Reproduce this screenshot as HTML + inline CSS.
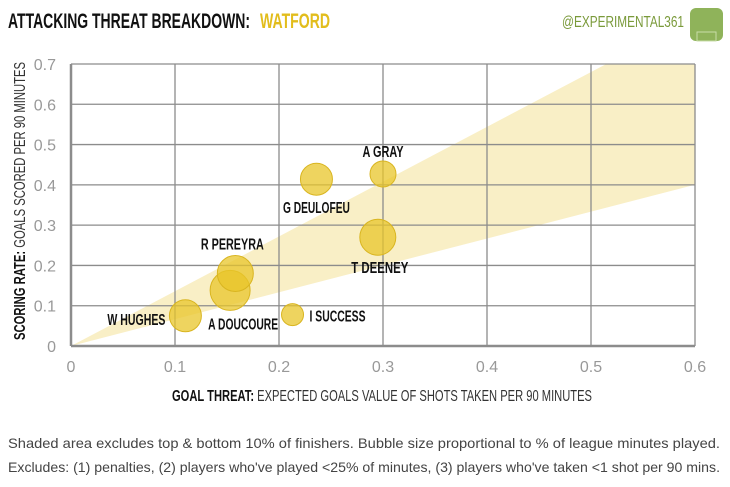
<!DOCTYPE html>
<html><head><meta charset="utf-8"><style>
body{margin:0;background:#fff;width:730px;height:487px;overflow:hidden;font-family:"Liberation Sans",sans-serif}
svg{display:block}
</style></head><body>
<svg id="chart" width="730" height="487" viewBox="0 0 730 487">
<text x="8" y="28" font-size="21" font-weight="bold" fill="#111" textLength="242" lengthAdjust="spacingAndGlyphs">ATTACKING THREAT BREAKDOWN:</text>
<text x="260" y="28" font-size="21" font-weight="bold" fill="#e2bd1c" textLength="70" lengthAdjust="spacingAndGlyphs">WATFORD</text>
<text x="562" y="27" font-size="16" fill="#7a9a3a" textLength="122" lengthAdjust="spacingAndGlyphs">@EXPERIMENTAL361</text>
<g><rect x="690" y="8" width="33" height="33" rx="6" fill="#8fb35a"/><rect x="697" y="32" width="19" height="9" fill="none" stroke="#c8dca8" stroke-width="1"/></g>
<g id="plot"></g>
<text x="8" y="448" font-size="14" fill="#444" textLength="712" lengthAdjust="spacingAndGlyphs">Shaded area excludes top &amp; bottom 10% of finishers. Bubble size proportional to % of league minutes played.</text>
<text x="8" y="472" font-size="14" fill="#444" textLength="712" lengthAdjust="spacingAndGlyphs">Excludes: (1) penalties, (2) players who've played &lt;25% of minutes, (3) players who've taken &lt;1 shot per 90 mins.</text>
</svg>
<script>
const players=["W HUGHES","A DOUCOURE","R PEREYRA","I SUCCESS","G DEULOFEU","A GRAY","T DEENEY"];
const xG=[0.110,0.153,0.158,0.213,0.236,0.300,0.295];
const goals=[0.075,0.138,0.180,0.078,0.414,0.427,0.270];
const minutes=[16,20,18,11,16,13,18];
const xTicks=[0,0.1,0.2,0.3,0.4,0.5,0.6];
const yTicks=[0,0.1,0.2,0.3,0.4,0.5,0.6,0.7];
const bandUpper=1.36, bandLower=0.667;
const NS="http://www.w3.org/2000/svg";
const X0=71,X1=695,Y0=346,Y1=64;
const sx=v=>X0+v/0.6*(X1-X0);
const sy=v=>Y0-v/0.7*(Y0-Y1);
const g=document.getElementById('plot');
function mk(t,a){const e=document.createElementNS(NS,t);for(const k in a)e.setAttribute(k,a[k]);g.appendChild(e);return e;}
const ux=Math.min(0.6,0.7/bandUpper);
let pts=[[0,0],[ux,ux*bandUpper]];
if(ux<0.6)pts.push([0.6,0.7]);
pts.push([0.6,0.6*bandLower]);
const band=mk('polygon',{points:pts.map(p=>sx(p[0])+','+sy(p[1])).join(' '),fill:'#f9efc6'});


xTicks.forEach(v=>{
 const l=mk('line',{x1:sx(v),x2:sx(v),y1:Y1,y2:Y0,stroke:'#8c8c8c','stroke-width':v===0?2.5:1.3});
 
 
 const t=mk('text',{x:sx(v),y:372,'text-anchor':'middle','font-size':16,fill:'#999'});
 t.textContent=v===0?'0':String(v);
 
 
});
yTicks.forEach(v=>{
 const l=mk('line',{x1:X0,x2:X1,y1:sy(v),y2:sy(v),stroke:'#8c8c8c','stroke-width':v===0?2.5:1.3});
 
 
 const t=mk('text',{x:56,y:sy(v)+6,'text-anchor':'end','font-size':16,fill:'#999'});
 t.textContent=v===0?'0':String(v);
 
 
});
const labelPos=[[-20,9,'end',58],[-22,39,'start',70],[-3,-24,'middle',63],[17,7,'start',56],[0,34,'middle',67],[0,-17,'middle',41],[2,36,'middle',57]];
players.forEach((p,i)=>{
 const c=mk('circle',{cx:sx(xG[i]),cy:sy(goals[i]),r:minutes[i],fill:'#e8c52a','fill-opacity':0.75,stroke:'#d9b520','stroke-width':1});
 
 
});
players.forEach((p,i)=>{
 const lp=labelPos[i];
 const t=mk('text',{x:sx(xG[i])+lp[0],y:sy(goals[i])+lp[1],'text-anchor':lp[2],'font-size':16,'font-weight':'bold',fill:'#111',textLength:lp[3],lengthAdjust:'spacingAndGlyphs'});
 t.textContent=p;
 
 
});
const xt=mk('text',{x:172,y:401,'font-size':16,fill:'#333',textLength:420,lengthAdjust:'spacingAndGlyphs'});
xt.innerHTML='<tspan font-weight="bold" fill="#111">GOAL THREAT:</tspan> EXPECTED GOALS VALUE OF SHOTS TAKEN PER 90 MINUTES';


const yt=mk('text',{x:0,y:0,'font-size':16,fill:'#333',transform:'translate(25,340) rotate(-90)',textLength:278,lengthAdjust:'spacingAndGlyphs'});
yt.innerHTML='<tspan font-weight="bold" fill="#111">SCORING RATE:</tspan> GOALS SCORED PER 90 MINUTES';


</script>
</body></html>
